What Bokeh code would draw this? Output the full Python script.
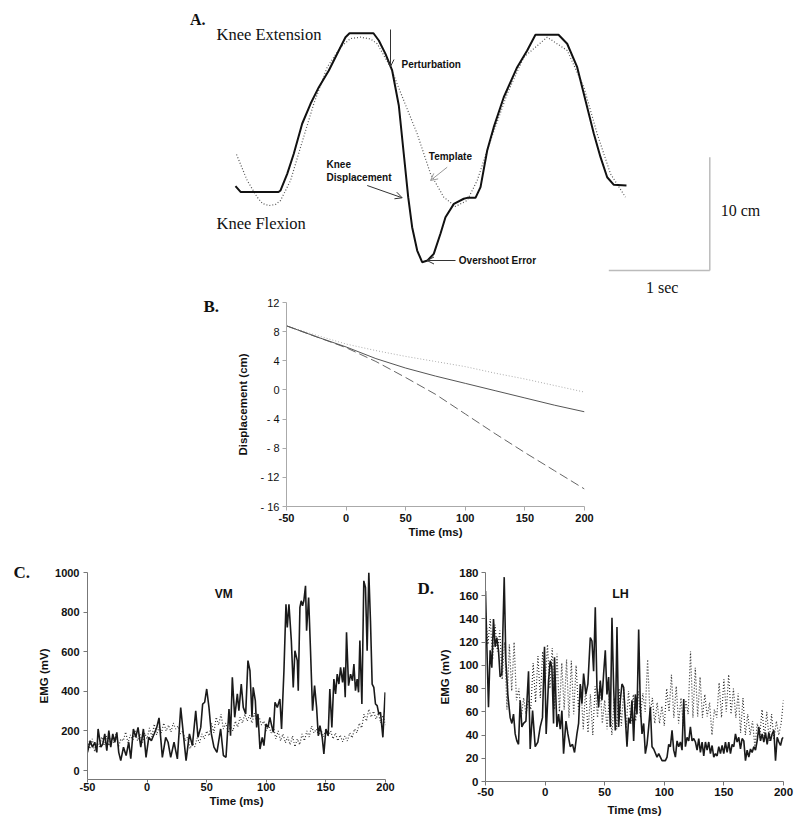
from bokeh.plotting import figure
from bokeh.models import (Range1d, FixedTicker, Label, Arrow, OpenHead,
                          CustomJSTickFormatter)
from bokeh.layouts import column, row
from bokeh.embed import file_html
from bokeh.resources import INLINE

# ---------------- Panel A: knee trajectory (time in s, displacement in cm)
KNEE_T = [0.000, 0.050, 0.426, 0.446, 0.512, 0.577, 0.660, 0.743, 0.825, 0.924,
          1.023, 1.089, 1.129, 1.366, 1.419, 1.485, 1.551, 1.617, 1.666, 1.710,
          1.749, 1.799, 1.848, 1.901, 1.963, 2.030, 2.079, 2.162, 2.260, 2.294,
          2.376, 2.426, 2.492, 2.557, 2.656, 2.789, 2.888, 2.970, 3.198, 3.284,
          3.383, 3.482, 3.548, 3.614, 3.680, 3.746, 3.871]
KNEE_D = [6.71, 6.20, 6.20, 6.33, 7.80, 9.57, 12.22, 13.98, 15.45, 16.92,
          18.69, 19.86, 20.21, 20.21, 19.57, 18.39, 16.92, 13.83, 9.57, 5.74,
          3.09, 1.03, 0.00, 0.15, 0.74, 2.53, 3.97, 5.15, 5.60, 5.68,
          5.68, 6.62, 9.86, 11.92, 14.56, 17.21, 18.69, 20.07, 20.07, 19.28,
          17.21, 13.68, 11.33, 9.27, 7.50, 6.83, 6.77]
TEMPLATE_T = [0.010, 0.116, 0.215, 0.267, 0.330, 0.396, 0.446, 0.545, 0.644, 0.775,
              0.908, 1.040, 1.139, 1.238, 1.337, 1.403, 1.535, 1.666, 1.799, 1.931,
              2.062, 2.178, 2.294, 2.393, 2.525, 2.690, 2.854, 3.086, 3.284, 3.449,
              3.581, 3.713, 3.861]
TEMPLATE_D = [9.51, 7.21, 5.74, 5.18, 5.00, 5.09, 5.45, 7.21, 10.15, 13.98,
              17.21, 18.98, 19.74, 19.86, 19.70, 19.28, 17.21, 14.27, 11.33, 7.80,
              5.74, 4.92, 5.45, 7.21, 10.74, 14.86, 18.09, 19.86, 18.69, 15.45,
              11.33, 7.80, 5.74]
SCALE_SEC = 1.0
SCALE_CM = 10.0

# ---------------- Panel B: displacement (cm) vs time (ms)
B_TIME = [-50, -25, 0, 25, 50, 75, 100, 125, 150, 175, 200]
B_SOLID = [8.8, 7.3, 5.9, 4.3, 3.0, 1.9, 0.9, -0.1, -1.1, -2.1, -3.0]
B_DOTTED = [8.8, 7.5, 6.3, 5.4, 4.6, 3.9, 3.2, 2.3, 1.5, 0.6, -0.3]
B_DASHED = [8.8, 7.3, 5.8, 3.9, 1.7, -0.6, -3.3, -6.0, -8.6, -11.1, -13.6]
B_XTICKS = [-50, 0, 50, 100, 150, 200]
B_YTICKS = [-16, -12, -8, -4, 0, 4, 8, 12]

# ---------------- Panel C: VM EMG (mV)
VM_T = [-50.0, -47.8, -45.8, -43.9, -42.2, -41.1, -38.8, -37.2, -35.5, -33.8,
        -32.1, -30.5, -28.8, -27.1, -25.4, -23.8, -22.1, -19.8, -17.6, -15.4,
        -13.7, -11.5, -9.5, -7.6, -5.3, -3.1, -0.9, 1.4, 3.6, 5.9,
        8.1, 10.0, 12.8, 15.6, 17.6, 19.8, 22.6, 25.4, 28.2, 30.4,
        32.7, 35.5, 38.0, 40.8, 42.7, 45.0, 46.6, 48.3, 50.0, 51.9,
        53.9, 56.1, 58.6, 61.7, 64.0, 66.2, 68.7, 70.0, 71.5, 73.5,
        75.7, 77.0, 79.0, 80.7, 82.7, 84.6, 86.3, 88.0, 89.0, 90.8,
        91.9, 93.0, 94.7, 96.6, 98.0, 99.7, 101.4, 103.0, 104.5, 105.9,
        107.3, 109.2, 111.4, 112.8, 114.8, 116.5, 117.6, 119.0, 121.0, 122.6,
        124.0, 126.0, 126.8, 128.2, 129.3, 130.4, 131.5, 132.9, 133.8, 135.5,
        137.1, 138.8, 140.5, 142.2, 143.6, 145.0, 146.9, 148.3, 150.0, 151.9,
        153.3, 155.0, 156.7, 158.1, 159.5, 160.9, 162.3, 164.0, 165.1, 166.2,
        167.3, 169.0, 170.7, 172.3, 173.5, 174.8, 176.2, 177.4, 178.5, 180.2,
        181.8, 183.2, 184.6, 186.0, 187.4, 188.8, 190.2, 191.6, 193.0, 194.4,
        195.8, 197.8, 199.7]
VM_SOLID = [92, 151, 118, 143, 92, 210, 118, 134, 185, 101,
            202, 118, 185, 143, 193, 92, 50, 118, 76, 143,
            60, 210, 168, 218, 118, 210, 67, 168, 151, 185,
            218, 266, 67, 168, 143, 67, 143, 59, 318, 185,
            50, 185, 126, 302, 168, 218, 336, 345, 412, 319,
            185, 118, 92, 210, 76, 67, 311, 176, 471, 269,
            387, 302, 437, 319, 286, 555, 504, 269, 420, 353,
            218, 286, 109, 168, 126, 235, 218, 269, 227, 193,
            345, 319, 361, 210, 504, 840, 723, 840, 656, 420,
            605, 555, 403, 824, 857, 832, 857, 933, 706, 874,
            605, 302, 429, 319, 176, 227, 168, 84, 210, 176,
            412, 218, 462, 387, 487, 437, 521, 445, 521, 370,
            698, 429, 487, 454, 538, 403, 462, 395, 656, 336,
            958, 924, 605, 1000, 756, 437, 420, 336, 328, 286,
            294, 168, 395]
VM_DOT_T = list(range(-50, 201, 2))
VM_DOTTED = [150, 110, 160, 95, 140, 120, 170, 130, 175, 125,
             165, 140, 185, 120, 160, 150, 195, 140, 180, 155,
             200, 150, 185, 140, 190, 160, 215, 170, 235, 180,
             220, 190, 240, 200, 230, 195, 240, 210, 225, 185,
             200, 150, 170, 110, 140, 120, 165, 140, 185, 160,
             200, 175, 240, 190, 270, 230, 285, 210, 240, 190,
             220, 200, 250, 220, 270, 240, 285, 250, 280, 240,
             290, 250, 270, 230, 250, 200, 230, 190, 220, 160,
             200, 150, 185, 140, 170, 130, 175, 120, 160, 130,
             185, 150, 200, 170, 225, 190, 210, 175, 205, 170,
             210, 175, 200, 160, 190, 150, 180, 145, 175, 150,
             190, 165, 210, 190, 240, 215, 285, 250, 310, 270,
             300, 260, 290, 240, 280, 230]
C_XTICKS = [-50, 0, 50, 100, 150, 200]
C_YTICKS = [0, 200, 400, 600, 800, 1000]

# ---------------- Panel D: LH EMG (mV)
LH_T = [-50.0, -48.9, -47.5, -46.1, -44.7, -43.3, -41.9, -40.5, -39.1, -37.7,
        -36.3, -34.3, -32.9, -31.3, -29.3, -27.9, -26.5, -25.1, -23.7, -22.3,
        -20.9, -19.5, -18.1, -16.1, -13.9, -12.5, -10.5, -8.3, -6.1, -4.1,
        -2.2, -0.5, 0.9, 2.9, 4.3, 5.7, 7.1, 7.9, 9.9, 11.3,
        12.7, 14.1, 15.5, 17.5, 19.1, 21.1, 23.0, 24.7, 26.7, 28.1,
        29.5, 30.9, 32.3, 34.2, 35.9, 37.9, 39.3, 40.7, 42.1, 43.5,
        44.9, 46.3, 47.7, 49.1, 50.5, 51.9, 53.3, 54.7, 56.1, 57.5,
        58.9, 60.3, 61.7, 63.1, 64.5, 65.9, 67.3, 68.7, 70.1, 71.5,
        72.9, 74.3, 75.7, 77.1, 78.5, 79.9, 81.3, 82.7, 84.1, 85.5,
        86.9, 88.3, 89.7, 91.1, 93.9, 95.3, 98.1, 100.9, 102.3, 103.7,
        105.1, 106.5, 107.9, 109.3, 110.7, 112.1, 113.5, 114.9, 116.3, 117.7,
        119.1, 120.5, 121.9, 123.3, 124.7, 126.1, 127.5, 128.9, 130.3, 131.7,
        133.1, 134.5, 135.9, 137.3, 138.7, 140.1, 141.5, 142.9, 144.3, 145.7,
        147.1, 148.5, 149.9, 151.3, 152.7, 154.1, 155.5, 156.9, 158.3, 159.7,
        161.1, 162.5, 163.9, 165.3, 166.7, 168.1, 169.5, 170.9, 172.3, 173.7,
        175.1, 176.5, 177.9, 179.3, 180.7, 182.1, 183.5, 184.9, 186.3, 187.7,
        189.1, 190.5, 191.9, 193.3, 194.7, 196.1, 197.5, 198.9, 200.0]
LH_SOLID = [164, 118, 64, 113, 98, 140, 116, 124, 113, 90,
            93, 176, 104, 75, 55, 50, 58, 41, 35, 32,
            70, 47, 50, 52, 95, 28, 61, 30, 34, 47,
            55, 116, 41, 87, 104, 98, 50, 107, 47, 58,
            45, 61, 24, 52, 41, 30, 32, 25, 41, 50,
            84, 67, 93, 75, 84, 124, 121, 95, 150, 81,
            64, 87, 70, 93, 113, 75, 90, 47, 141, 81,
            44, 133, 47, 70, 84, 81, 55, 30, 55, 50,
            70, 35, 75, 58, 131, 64, 41, 50, 24, 32,
            47, 64, 30, 28, 21, 24, 18, 18, 21, 32,
            30, 44, 27, 21, 35, 30, 34, 27, 71, 30,
            38, 35, 47, 35, 37, 34, 27, 37, 25, 34,
            22, 34, 27, 34, 24, 31, 21, 24, 22, 30,
            24, 31, 24, 34, 25, 34, 24, 32, 30, 41,
            34, 38, 28, 37, 35, 18, 27, 21, 28, 25,
            30, 27, 35, 47, 35, 41, 34, 42, 32, 42,
            35, 41, 44, 18, 38, 34, 31, 37, 38]
LH_DOT_T = list(range(-50, 201, 2))
LH_DOTTED = [145, 118, 140, 105, 135, 112, 130, 88, 120, 62,
             118, 78, 120, 70, 80, 55, 72, 58, 70, 62,
             102, 68, 108, 72, 112, 85, 118, 80, 115, 62,
             110, 60, 102, 62, 105, 55, 104, 58, 100, 62,
             82, 45, 80, 42, 75, 40, 82, 55, 86, 50,
             70, 45, 75, 40, 72, 45, 80, 48, 80, 46,
             78, 50, 75, 52, 78, 55, 76, 60, 105, 58,
             72, 50, 68, 50, 65, 48, 80, 60, 92, 55,
             82, 50, 72, 48, 70, 58, 112, 55, 98, 56,
             90, 55, 75, 56, 68, 40, 62, 55, 85, 55,
             88, 60, 92, 58, 80, 55, 76, 42, 72, 40,
             58, 40, 52, 30, 50, 38, 62, 38, 60, 35,
             58, 36, 52, 40, 50, 70]
D_XTICKS = [-50, 0, 50, 100, 150, 200]
D_YTICKS = [0, 20, 40, 60, 80, 100, 120, 140, 160, 180]

SANS = "Liberation Sans"
SERIF = "Liberation Serif"

# ---------------- layout helpers (page-pixel positions -> panel A data)
A_X0, A_Y0 = 235.0, 261.7
A_PX_SEC, A_PX_CM = 101.0, 11.33


def ta(px):
    return (px - A_X0) / A_PX_SEC


def da(py):
    return (A_Y0 - py) / A_PX_CM


def base_fig(w, h, xr, yr, left, right, top, bottom, axes=True):
    kw = dict(width=w, height=h, x_range=xr, y_range=yr, output_backend="svg",
              toolbar_location=None, title=None, min_border_left=left,
              min_border_right=right, min_border_top=top, min_border_bottom=bottom)
    if not axes:
        kw.update(x_axis_type=None, y_axis_type=None)
    p = figure(**kw)
    if "frame_align" in p.properties():
        p.frame_align = False
    p.outline_line_color = None
    p.grid.grid_line_color = None
    p.background_fill_color = "white"
    p.border_fill_color = "white"
    return p


def letter_fig(w, h, x, y, text):
    # a blank strip whose frame is the whole canvas, holding a panel letter
    p = base_fig(w, h, Range1d(0, w), Range1d(h, 0), 0, 0, 0, 0, axes=False)
    p.add_layout(Label(x=x, y=y, text=text, text_font=SERIF, text_font_size="17px",
                       text_font_style="bold", text_align="left",
                       text_baseline="middle", text_color="#111111"))
    return p


PLAIN = CustomJSTickFormatter(code='return "" + tick;')


def style_axes(p, xticks, yticks, axis_color, tick_size, xlabel, ylabel,
               label_size, ybold=True):
    p.xaxis.ticker = FixedTicker(ticks=xticks)
    p.yaxis.ticker = FixedTicker(ticks=yticks)
    p.xaxis.formatter = PLAIN
    p.yaxis.formatter = PLAIN
    for ax in (p.xaxis, p.yaxis):
        ax.axis_line_color = axis_color
        ax.major_tick_line_color = axis_color
        ax.minor_tick_line_color = None
        ax.major_tick_in = 0
        ax.major_tick_out = 4
        ax.major_label_text_font = SANS
        ax.major_label_text_font_size = tick_size
        ax.major_label_text_color = "#111111"
        ax.axis_label_text_font = SANS
        ax.axis_label_text_font_style = "bold"
        ax.axis_label_text_font_size = label_size
        ax.axis_label_text_color = "#111111"
    p.xaxis.major_label_text_font_style = "bold"
    p.yaxis.major_label_text_font_style = "bold" if ybold else "normal"
    p.xaxis.axis_label = xlabel
    p.yaxis.axis_label = ylabel


def add_text(p, x, y, text, font, size, style="normal", align="left",
             baseline="middle", units="data", color="#111111"):
    p.add_layout(Label(x=x, y=y, x_units=units, y_units=units, text=text,
                       text_font=font, text_font_size=size, text_font_style=style,
                       text_align=align, text_baseline=baseline, text_color=color))


# ================= Panel A  (page y 0-295)
pa = base_fig(800, 295, Range1d(ta(0), ta(800)), Range1d(da(295), da(0)),
              0, 0, 0, 0, axes=False)
pa.line(TEMPLATE_T, TEMPLATE_D, line_color="#555555", line_width=1.2, line_dash="1 2")
pa.line(KNEE_T, KNEE_D, line_color="#111111", line_width=2)
bx, by = ta(709.3), da(270)
pa.line([bx - SCALE_SEC, bx], [by, by], line_color="#bbbbbb", line_width=1.5)
pa.line([bx, bx], [by, by + SCALE_CM], line_color="#bbbbbb", line_width=1.5)

add_text(pa, ta(205), da(19), "A.", SERIF, "16px", "bold", align="right")
add_text(pa, ta(216), da(33.5), "Knee Extension", SERIF, "16.5px")
add_text(pa, ta(216), da(222.7), "Knee Flexion", SERIF, "16.5px")
add_text(pa, ta(401), da(64.3), "Perturbation", SANS, "10px", "bold")
add_text(pa, ta(428.3), da(156), "Template", SANS, "10px", "bold")
add_text(pa, ta(326), da(164.3), "Knee", SANS, "10px", "bold")
add_text(pa, ta(326), da(176.7), "Displacement", SANS, "10px", "bold")
add_text(pa, ta(458.3), da(260), "Overshoot Error", SANS, "10px", "bold")
add_text(pa, ta(740), da(210), "10 cm", SERIF, "16px", align="center")
add_text(pa, ta(661.7), da(286.7), "1 sec", SERIF, "16px", align="center")


def arrow(p, x0, y0, x1, y1, color):
    p.add_layout(Arrow(end=OpenHead(size=7, line_color=color, line_width=1),
                       x_start=ta(x0), y_start=da(y0), x_end=ta(x1), y_end=da(y1),
                       line_color=color, line_width=1))


arrow(pa, 390, 29, 390, 66, "#333333")
arrow(pa, 446.7, 166.7, 430, 180, "#999999")
arrow(pa, 366.7, 185, 401.7, 197.3, "#333333")
arrow(pa, 455, 260, 426.5, 260, "#333333")

# ================= Panel B  (page y 295-550)
lb = letter_fig(230, 255, 203, 11, "B.")
pb = base_fig(570, 255, Range1d(-50, 200), Range1d(-16, 12), 56, 216, 7, 44)
style_axes(pb, B_XTICKS, B_YTICKS, "#aaaaaa", "11px", "Time (ms)",
           "Displacement (cm)", "11.5px", ybold=False)
pb.yaxis.formatter = CustomJSTickFormatter(
    code='return tick < 0 ? "- " + (-tick) : "" + tick;')
pb.yaxis.major_label_standoff = 3
pb.yaxis.axis_label_standoff = 9
pb.xaxis.major_label_standoff = 3
pb.xaxis.axis_label_standoff = 1
pb.line(B_TIME, B_DOTTED, line_color="#aaaaaa", line_width=1, line_dash="1 2")
pb.line(B_TIME, B_DASHED, line_color="#666666", line_width=1, line_dash="9 4")
pb.line(B_TIME, B_SOLID, line_color="#555555", line_width=1)

# ================= Panel C  (page y 550-830)
lc = letter_fig(32, 280, 13, 22, "C.")
pc = base_fig(368, 280, Range1d(-50, 200), Range1d(-45, 1000), 55, 15, 22, 51)
style_axes(pc, C_XTICKS, C_YTICKS, "#777777", "11px", "Time (ms)", "EMG (mV)", "11.5px")
pc.xaxis.major_tick_out = 3
pc.xaxis.major_label_standoff = 0
pc.xaxis.axis_label_standoff = 1
pc.yaxis.major_label_standoff = 4
pc.yaxis.axis_label_standoff = 2
pc.line(VM_DOT_T, VM_DOTTED, line_color="#333333", line_width=1.2, line_dash="1 2")
pc.line(VM_T, VM_SOLID, line_color="#1a1a1a", line_width=1.6)
add_text(pc, 136.3, 185.7, "VM", SANS, "12px", "bold", align="center", units="screen")

# ================= Panel D
ld = letter_fig(34, 280, 17, 38, "D.")
pd = base_fig(366, 280, Range1d(-50, 200), Range1d(0, 180), 51, 17, 22, 49)
style_axes(pd, D_XTICKS, D_YTICKS, "#777777", "11.5px", "Time (ms)", "EMG (mV)", "11.5px")
pd.xaxis.major_label_standoff = 2
pd.xaxis.axis_label_standoff = 5
pd.yaxis.major_label_standoff = 3
pd.yaxis.axis_label_standoff = 5
pd.line(LH_DOT_T, LH_DOTTED, line_color="#333333", line_width=1.2, line_dash="1 2")
pd.line(LH_T, LH_SOLID, line_color="#1a1a1a", line_width=1.6)
add_text(pd, 135, 187.7, "LH", SANS, "12.5px", "bold", align="center", units="screen")

layout = column(row(pa), row(column(lb), column(pb)),
                row(column(lc), column(pc), column(ld), column(pd)))
open("out.html", "w").write(file_html(layout, INLINE))
